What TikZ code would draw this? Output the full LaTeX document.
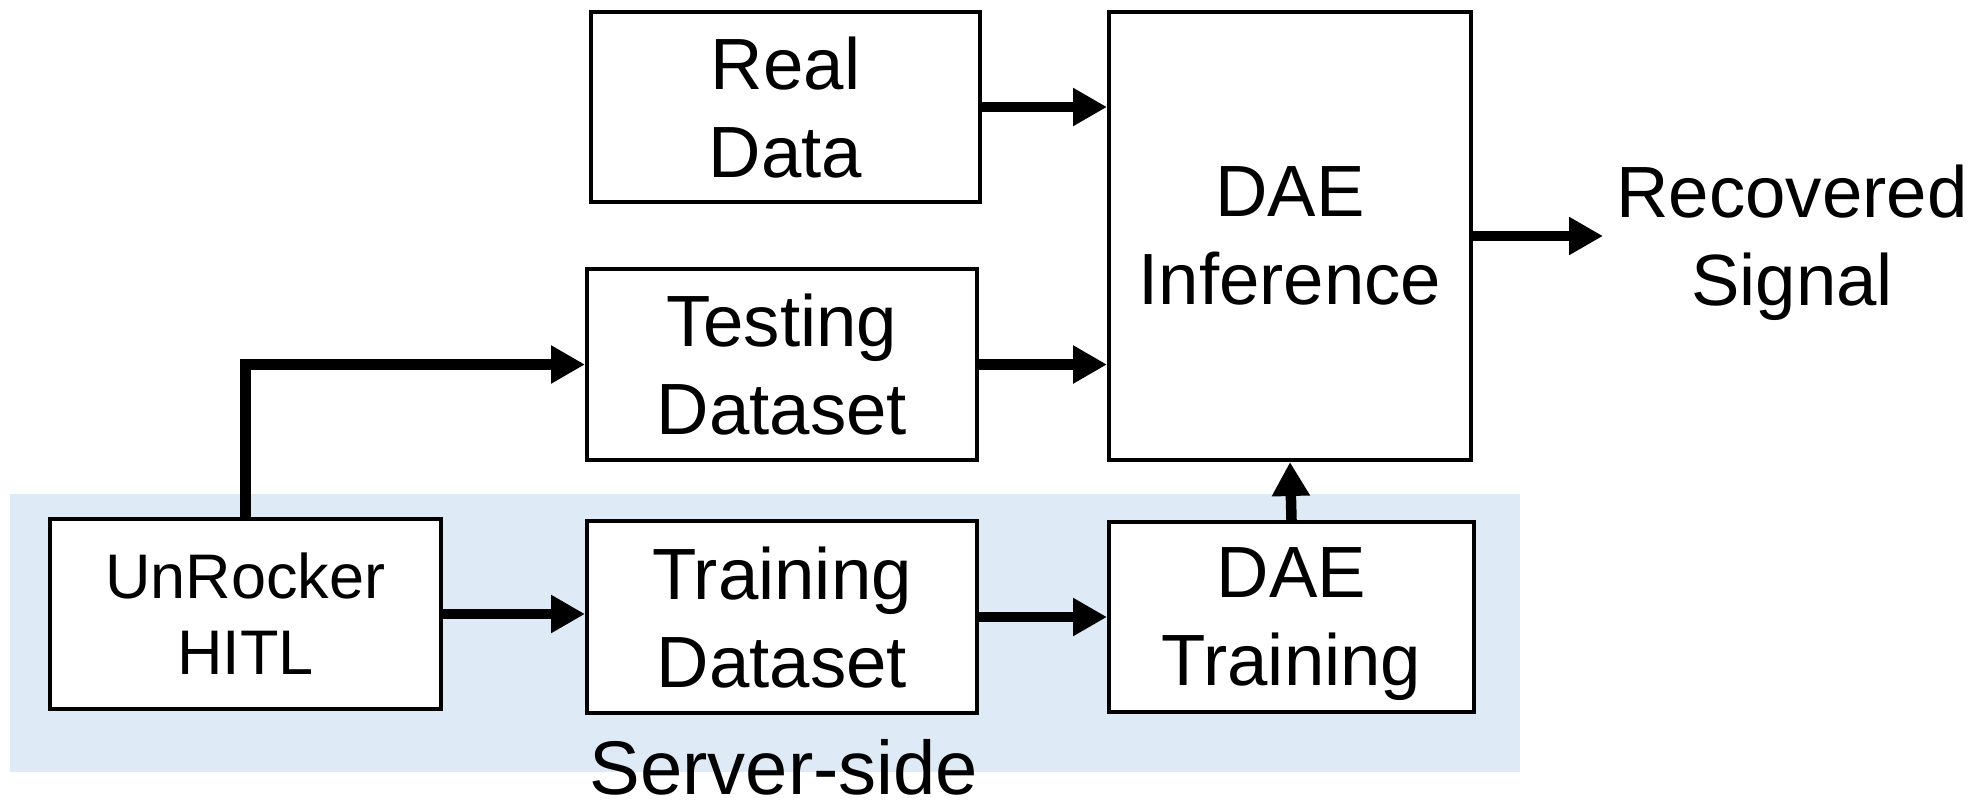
\documentclass[tikz,border=0pt]{standalone}
\usepackage{fontspec}
\setmainfont{Liberation Sans}
\usetikzlibrary{arrows.meta,calc}
\definecolor{serverbg}{HTML}{DEEAF6}
\begin{document}
\begin{tikzpicture}[x=1pt,y=-1pt,
  blk/.style={draw=black, line width=4pt, fill=white, align=center,
    font=\fontsize{72.6}{88}\selectfont, text depth=0pt, inner sep=0pt},
  flow/.style={line width=10.5pt, -{Triangle[length=34pt,width=36pt]}},
  lbl/.style={align=center, text depth=0pt, inner sep=0pt}]
\useasboundingbox (0,0) rectangle (1977,809);

% server-side region
\fill[serverbg] (10,494) rectangle (1520,772);

% blocks
\node[blk, minimum width=389pt, minimum height=190pt] (real)  at (785.5,107)  {Real\\Data};
\node[blk, minimum width=390pt, minimum height=191pt] (test)  at (782,364.5)  {Testing\\Dataset};
\node[blk, minimum width=390pt, minimum height=192pt] (train) at (782,617)    {Training\\Dataset};
\node[blk, minimum width=391pt, minimum height=190pt,
      font=\fontsize{63}{76}\selectfont] (unr) at (245.5,614) {UnRocker\\HITL};
\node[blk, minimum width=365pt, minimum height=190pt] (dtrain) at (1291.5,617) {DAE\\Training};
\node[blk, minimum width=362pt, minimum height=448pt] (dinf)   at (1290,236)   {DAE\\Inference};

% labels
\node[lbl, font=\fontsize{72.6}{88}\selectfont] (rec) at (1792,235) {Recovered\\Signal};
\node[anchor=base, inner sep=0pt, font=\fontsize{76}{92}\selectfont] (srv) at (784,794) {Server-side};
\coordinate (rectip) at (1603,236);

% connectors
\draw[flow] (real.east) -- (real.east -| dinf.west);
\draw[flow] (test.east) -- (test.east -| dinf.west);
\draw[flow] (unr.north) |- (test.west);
\draw[flow] (unr.east) -- (unr.east -| train.west);
\draw[flow] (train.east) -- (dtrain.west);
\draw[flow] (dtrain.north) -- (dinf.south);
\draw[flow] (dinf.east) -- (rectip);
\end{tikzpicture}
\end{document}
